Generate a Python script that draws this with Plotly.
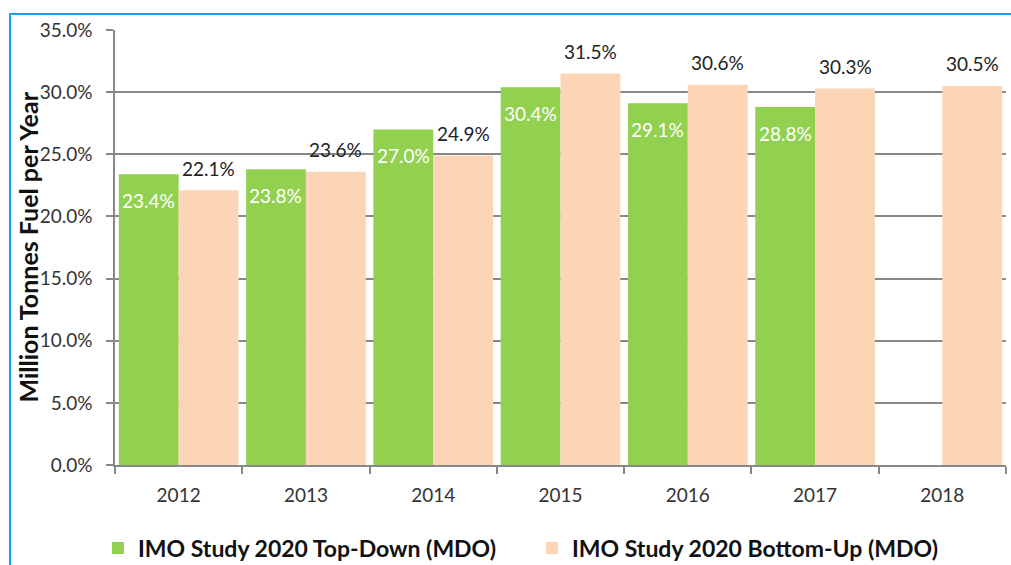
import plotly.graph_objects as go

years = ["2012", "2013", "2014", "2015", "2016", "2017", "2018"]
top_down = [23.4, 23.8, 27.0, 30.4, 29.1, 28.8, None]
bottom_up = [22.1, 23.6, 24.9, 31.5, 30.6, 30.3, 30.5]
series_names = ["IMO Study 2020 Top-Down (MDO)", "IMO Study 2020 Bottom-Up (MDO)"]
y_ticks = [0, 5, 10, 15, 20, 25, 30, 35]
y_title = "Million Tonnes Fuel per Year"

GREEN = "#92D050"
PEACH = "#FBD5B5"
GRID = "#888888"
FONT = "Lato"

W, H = 1011, 565
ML, MR, MT, MB = 115, 5, 30, 100
PW = W - ML - MR
PH = H - MT - MB


def px_x(p):
    return (p - ML) / PW


def px_y(p):
    return (H - MB - p) / PH


idx = list(range(len(years)))

fig = go.Figure()
fig.add_trace(go.Bar(x=idx, y=top_down, name=series_names[0],
                     marker=dict(color=GREEN, line=dict(width=0))))
fig.add_trace(go.Bar(x=idx, y=bottom_up, name=series_names[1],
                     marker=dict(color=PEACH, line=dict(width=0))))

# value labels: inside-top for top-down, above the bar for bottom-up
ann = []
for i, v in zip(idx, top_down):
    if v is None:
        continue
    ann.append(dict(x=i, y=v, xref="x", yref="y", text=f"{v:.1f}%",
                    showarrow=False, xshift=-30, yshift=-26,
                    font=dict(family=FONT, size=19, color="white")))
for i, v in zip(idx, bottom_up):
    ann.append(dict(x=i, y=v, xref="x", yref="y", text=f"{v:.1f}%",
                    showarrow=False, xshift=30, yshift=22,
                    font=dict(family=FONT, size=19, color="#222222")))

# vertical axis title
ann.append(dict(x=px_x(27), y=0.5, xref="paper", yref="paper", text=y_title,
                textangle=-90, showarrow=False, xanchor="center", yanchor="middle",
                font=dict(family=FONT, size=25, color="#111111", weight="bold")))

# outer frame line (left and top edges)
shapes = [dict(type="path", xref="paper", yref="paper",
               path=f"M {px_x(10)} {px_y(566)} L {px_x(10)} {px_y(14)} L {px_x(1012)} {px_y(14)}",
               line=dict(color="#1AA3E8", width=2))]

fig.update_layout(
    width=W, height=H,
    margin=dict(l=ML, r=MR, t=MT, b=MB, autoexpand=False),
    paper_bgcolor="white", plot_bgcolor="white",
    barmode="group", bargap=0.06, bargroupgap=0,
    font=dict(family=FONT, size=19, color="#333333"),
    annotations=ann, shapes=shapes,
    showlegend=True,
    legend=dict(orientation="h", xref="container", yref="container",
                x=98 / W, xanchor="left", y=1 - 548 / H, yanchor="middle",
                font=dict(family=FONT, size=23, color="#111111", weight="bold"),
                entrywidth=389, entrywidthmode="pixels", itemclick=False,
                bgcolor="rgba(0,0,0,0)"),
    xaxis=dict(tickvals=idx, ticktext=years, range=[-0.5, len(years) - 0.5],
               ticks="", showline=True, linecolor=GRID, linewidth=1.5,
               showgrid=False, zeroline=False, ticklabelstandoff=12,
               tickfont=dict(size=19, color="#333333"),
               minor=dict(tickvals=[i - 0.5 for i in idx] + [len(years) - 0.5],
                          ticks="outside", ticklen=7, tickcolor=GRID, tickwidth=1.5,
                          showgrid=False)),
    yaxis=dict(range=[0, 35], tickvals=y_ticks, ticktext=[f"{t:.1f}%" for t in y_ticks],
               showgrid=True, gridcolor=GRID, gridwidth=1.5, ticks="outside", ticklen=7,
               tickcolor=GRID, tickwidth=1.5, showline=True, linecolor=GRID, linewidth=1.5,
               zeroline=False, ticklabelstandoff=10, tickfont=dict(size=19, color="#333333")),
)

fig.write_html("out.html")
